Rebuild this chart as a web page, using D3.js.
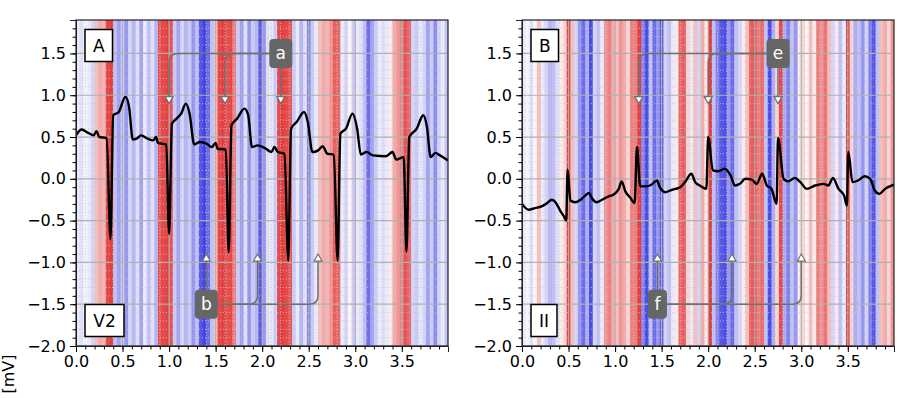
<!DOCTYPE html>
<html>
<head>
<meta charset="utf-8">
<script src="https://cdn.jsdelivr.net/npm/d3@7"></script>
<style>
  body { margin: 0; background: #fff; }
  text { font-family: "DejaVu Sans", sans-serif; }
</style>
</head>
<body>
<div id="plot"></div>
<script>
var W = 922, H = 398

// relevance per 0.04 s bin (-1 blue ... +1 red)
var binWidth = 0.04
var relA = [
  -0.1, -0.15, -0.05, -0.1, -0.2, 0.3, 0.4, 0.35, 0.85, 0.9,
  -0.3, -0.45, -0.25, -0.5, -0.2, -0.35, -0.15, -0.45, -0.1, -0.3,
  -0.15, -0.35, 0.8, 0.85, 0.9, 0.8, -0.25, -0.45, -0.2, -0.35,
  -0.25, -0.5, -0.3, -0.8, -0.9, -0.7, -0.3, 0.3, 0.85, 0.9,
  0.8, 0.85, 0.6, -0.25, -0.45, -0.15, -0.5, -0.25, -0.35, -0.8,
  -0.5, -0.15, -0.1, -0.25, 0.85, 0.9, 0.85, 0.8, -0.25, -0.1,
  -0.35, -0.15, -0.6, -0.25, -0.1, 0.3, 0.4, 0.35, 0.5, 0.75,
  0.7, -0.1, -0.2, 0.05, -0.25, -0.1, -0.15, -0.3, -0.7, -0.45,
  -0.25, -0.1, -0.15, -0.1, 0.1, 0.4, 0.5, 0.6, 0.8, 0.7,
  -0.2, -0.25, -0.1, -0.2, -0.45, -0.25, -0.55, -0.2, -0.1, -0.3
]
var relB = [
  -0.1, -0.05, -0.15, 0.05, 0.3, -0.1, -0.2, -0.35, -0.3, -0.15,
  0.1, 0.2, 0.9, 0.3, -0.2, -0.5, -0.7, -0.4, -0.85, -0.2,
  -0.3, -0.1, 0.5, 0.6, 0.4, 0.3, 0.5, 0.4, 0.2, 0.6,
  0.6, 0.9, -0.6, -0.85, -0.3, -0.7, -0.5, -0.8, -0.2, -0.3,
  -0.1, 0.1, 0.7, 0.75, 0.2, -0.1, 0.3, -0.2, 0.4, 0.1,
  0.9, -0.3, -0.6, -0.8, -0.85, -0.5, -0.7, -0.3, -0.2, 0.1,
  0.3, 0.75, 0.8, 0.6, 0.7, -0.3, -0.85, -0.4, 0.2, 0.85,
  -0.4, -0.6, -0.3, -0.5, 0.1, 0.2, 0.05, 0.3, 0.1, 0.6,
  0.5, 0.65, 0.3, -0.2, 0.1, -0.3, -0.1, 0.9, 0.2, -0.4,
  -0.3, -0.5, -0.2, -0.6, -0.8, -0.3, 0.3, 0.4, 0.2, 0.5
]

// ECG traces [s], [mV]
var tA = [0, 0.06, 0.13, 0.19, 0.22, 0.25, 0.33, 0.37, 0.40, 0.46,
  0.53, 0.57, 0.61, 0.65, 0.70, 0.77, 0.83, 0.86, 0.88, 0.97,
  1.00, 1.03, 1.08, 1.13, 1.18, 1.22, 1.27, 1.33, 1.40, 1.46,
  1.50, 1.52, 1.61, 1.64, 1.67, 1.73, 1.81, 1.85, 1.89, 1.95,
  2.04, 2.10, 2.13, 2.17, 2.24, 2.28, 2.31, 2.37, 2.45, 2.49,
  2.54, 2.60, 2.65, 2.70, 2.77, 2.81, 2.84, 2.90, 2.97, 3.02,
  3.06, 3.12, 3.19, 3.33, 3.40, 3.44, 3.52, 3.55, 3.58, 3.66,
  3.73, 3.77, 3.81, 3.86, 3.91, 3.996]
var vA = [0.52, 0.59, 0.55, 0.52, 0.57, 0.50, 0.49, -0.72, 0.76, 0.80,
  0.98, 0.86, 0.47, 0.48, 0.52, 0.48, 0.46, 0.50, 0.43, 0.41,
  -0.66, 0.66, 0.72, 0.78, 0.90, 0.78, 0.41, 0.44, 0.42, 0.38,
  0.43, 0.36, 0.35, -0.88, 0.64, 0.72, 0.84, 0.76, 0.38, 0.40,
  0.36, 0.32, 0.38, 0.32, 0.30, -0.98, 0.60, 0.68, 0.80, 0.68,
  0.32, 0.34, 0.39, 0.30, 0.29, -0.98, 0.54, 0.60, 0.78, 0.60,
  0.29, 0.32, 0.28, 0.27, 0.32, 0.23, 0.26, -0.87, 0.50, 0.60,
  0.76, 0.62, 0.26, 0.31, 0.28, 0.22]

var tB = [0, 0.07, 0.14, 0.21, 0.27, 0.32, 0.36, 0.41, 0.45, 0.475,
  0.49, 0.52, 0.57, 0.63, 0.68, 0.72, 0.75, 0.80, 0.86, 0.93,
  0.98, 1.04, 1.07, 1.11, 1.16, 1.21, 1.235, 1.27, 1.34, 1.39,
  1.45, 1.48, 1.54, 1.59, 1.65, 1.70, 1.75, 1.82, 1.86, 1.91,
  1.98, 2.00, 2.05, 2.11, 2.18, 2.24, 2.29, 2.34, 2.40, 2.47,
  2.52, 2.58, 2.63, 2.68, 2.735, 2.75, 2.81, 2.86, 2.93, 2.99,
  3.06, 3.15, 3.24, 3.29, 3.34, 3.40, 3.46, 3.49, 3.505, 3.55,
  3.61, 3.68, 3.74, 3.79, 3.84, 3.90, 3.996]
var vB = [-0.30, -0.37, -0.35, -0.33, -0.29, -0.25, -0.28, -0.38, -0.45, -0.50,
  0.11, -0.26, -0.28, -0.25, -0.20, -0.17, -0.23, -0.28, -0.25, -0.21,
  -0.19, -0.12, -0.03, -0.15, -0.22, -0.29, 0.38, -0.09, -0.09, -0.07,
  -0.02, -0.10, -0.16, -0.14, -0.12, -0.10, -0.04, 0.06, -0.04, -0.08,
  -0.12, 0.50, 0.10, 0.09, 0.12, 0.04, -0.08, -0.06, 0.00, -0.01,
  -0.06, 0.06, -0.08, -0.12, -0.30, 0.49, 0.00, -0.03, 0.01, -0.04,
  -0.12, -0.08, -0.06, -0.08, 0.01, -0.12, -0.20, -0.32, 0.32, -0.04,
  -0.02, 0.03, 0.00, -0.14, -0.18, -0.12, -0.07]

var xTicks = [0, 0.5, 1.0, 1.5, 2.0, 2.5, 3.0, 3.5]
var yTicks = [-2.0, -1.5, -1.0, -0.5, 0.0, 0.5, 1.0, 1.5]

var panels = [
  { id: "A", lead: "V2", left: 76, rel: relA, t: tA, v: vA,
    up: { label: "a", at: [2.2, 1.5], targets: [1.0, 1.6, 2.2], tip: 0.9 },
    low: { label: "b", at: [1.4, -1.5], targets: [1.4, 1.95, 2.6], tip: -0.9 } },
  { id: "B", lead: "II", left: 522, rel: relB, t: tB, v: vB,
    up: { label: "e", at: [2.75, 1.5], targets: [1.255, 2.0, 2.75], tip: 0.9 },
    low: { label: "f", at: [1.455, -1.5], targets: [1.455, 2.255, 3.0], tip: -0.9 } }
]

var pw = 372, plotTop = 20, plotBottom = 346

var svg = d3.select("#plot").append("svg")
  .attr("width", W).attr("height", H)

var blueRed = function (r) {
  return r >= 0 ? d3.interpolateRgb("#ffffff", "#e02a2a")(Math.min(r, 1))
                : d3.interpolateRgb("#ffffff", "#2f2fe0")(Math.min(-r, 1))
}

var notMajor = v => Math.abs(v / 0.5 - Math.round(v / 0.5)) > 1e-6

panels.forEach(function (p, pi) {
  var x = d3.scaleLinear().domain([0, 3.996]).range([p.left, p.left + pw])
  var y = d3.scaleLinear().domain([-2, 1.9]).range([plotBottom, plotTop])

  var g = svg.append("g")
  var clipId = "clip" + pi
  g.append("clipPath").attr("id", clipId)
    .append("rect").attr("x", p.left).attr("y", plotTop)
    .attr("width", pw).attr("height", plotBottom - plotTop)

  var inner = g.append("g").attr("clip-path", "url(#" + clipId + ")")

  // relevance stripes
  inner.selectAll("rect.bin")
    .data(p.rel)
    .enter().append("rect")
      .attr("class", "bin")
      .attr("x", (d, i) => x(i * binWidth))
      .attr("y", plotTop)
      .attr("width", (d, i) => x((i + 1) * binWidth) - x(i * binWidth) + 0.5)
      .attr("height", plotBottom - plotTop)
      .attr("fill", d => blueRed(d))

  // minor grid (dotted)
  var minorX = d3.range(0, 40).map(i => i / 10).filter(notMajor)
  var minorY = d3.range(-20, 19).map(i => i / 10).filter(notMajor)
  inner.selectAll("line.mx").data(minorX).enter().append("line")
    .attr("x1", d => x(d)).attr("x2", d => x(d))
    .attr("y1", plotTop).attr("y2", plotBottom)
    .attr("stroke", "#c8c8c8").attr("stroke-width", 0.8)
    .attr("stroke-dasharray", "1,2")
  inner.selectAll("line.my").data(minorY).enter().append("line")
    .attr("x1", p.left).attr("x2", p.left + pw)
    .attr("y1", d => y(d)).attr("y2", d => y(d))
    .attr("stroke", "#c8c8c8").attr("stroke-width", 0.8)
    .attr("stroke-dasharray", "1,2")

  // major grid
  inner.selectAll("line.gx").data(xTicks).enter().append("line")
    .attr("x1", d => x(d)).attr("x2", d => x(d))
    .attr("y1", plotTop).attr("y2", plotBottom)
    .attr("stroke", "#b0b0b0").attr("stroke-width", 1.2)
  inner.selectAll("line.gy").data(yTicks).enter().append("line")
    .attr("x1", p.left).attr("x2", p.left + pw)
    .attr("y1", d => y(d)).attr("y2", d => y(d))
    .attr("stroke", "#b0b0b0").attr("stroke-width", 1.2)

  // ECG trace
  var line = d3.line()
    .x((d, i) => x(p.t[i]))
    .y(d => y(d))
    .curve(d3.curveMonotoneX)
  inner.append("path")
    .datum(p.v)
    .attr("d", line)
    .attr("fill", "none")
    .attr("stroke", "#000")
    .attr("stroke-width", 2.4)
    .attr("stroke-linejoin", "round")

  // annotations
  var drawAnn = function (ann, down) {
    var bx = x(ann.at[0]), by = y(ann.at[1])
    var r = 9
    ann.targets.forEach(function (tt) {
      var tx = x(tt), ty = y(ann.tip)
      var path
      var ay = down ? ty - 7 : ty + 7
      if (Math.abs(tx - bx) < 1) {
        path = "M" + bx + "," + by + "L" + tx + "," + ay
      } else {
        var dir = tx < bx ? 1 : -1
        var dy = down ? r : -r
        path = "M" + bx + "," + by + "L" + (tx + dir * r) + "," + by +
          "Q" + tx + "," + by + " " + tx + "," + (by + dy) + "L" + tx + "," + ay
      }
      inner.append("path").attr("d", path)
        .attr("fill", "none").attr("stroke", "#707070").attr("stroke-width", 1.5)
      var h = down ? -7 : 7
      inner.append("path")
        .attr("d", "M" + tx + "," + ty + "L" + (tx - 4) + "," + (ty + h) + "L" + (tx + 4) + "," + (ty + h) + "Z")
        .attr("fill", "#fff").attr("stroke", "#707070").attr("stroke-width", 1.2)
    })
    var bw = ann.label === "f" ? 19 : 23
    inner.append("rect")
      .attr("x", bx - bw / 2).attr("y", by - 14.5)
      .attr("width", bw).attr("height", 29)
      .attr("rx", 4).attr("fill", "#666")
    inner.append("text")
      .attr("x", bx).attr("y", by + 6)
      .attr("text-anchor", "middle")
      .attr("fill", "#fff").attr("font-size", 17)
      .text(ann.label)
  }
  drawAnn(p.up, true)
  drawAnn(p.low, false)

  // panel labels
  var labelBox = function (txt, bx, byTop, bw) {
    g.append("rect").attr("x", bx).attr("y", byTop)
      .attr("width", bw).attr("height", 32)
      .attr("fill", "#fff").attr("stroke", "#000").attr("stroke-width", 1.5)
    g.append("text").attr("x", bx + bw / 2).attr("y", byTop + 22)
      .attr("text-anchor", "middle").attr("font-size", 17).attr("fill", "#000")
      .text(txt)
  }
  labelBox(p.id, p.left + 9, 29.5, 27.5)
  labelBox(p.lead, p.left + 9, 304.5, p.lead === "V2" ? 39 : 26)

  // frame
  g.append("rect").attr("x", p.left).attr("y", plotTop)
    .attr("width", pw).attr("height", plotBottom - plotTop)
    .attr("fill", "none").attr("stroke", "#222").attr("stroke-width", 1.2)

  // axes
  g.append("g").attr("transform", "translate(0," + plotBottom + ")")
    .call(d3.axisBottom(x).tickValues(xTicks).tickFormat(d3.format(".1f")).tickSize(6).tickPadding(4))
  g.append("g").attr("transform", "translate(0," + plotBottom + ")")
    .call(d3.axisBottom(x).tickValues(d3.range(0, 40).map(i => i / 10)).tickFormat("").tickSize(3.5))
    .select(".domain").remove()
  g.append("g").attr("transform", "translate(" + p.left + ",0)")
    .call(d3.axisLeft(y).tickValues(yTicks).tickFormat(d => d3.format(".1f")(d).replace("-", "\u2212")).tickSize(6).tickPadding(4))
  g.append("g").attr("transform", "translate(" + p.left + ",0)")
    .call(d3.axisLeft(y).tickValues(d3.range(-20, 19).map(i => i / 10)).tickFormat("").tickSize(3.5))
    .select(".domain").remove()
  g.selectAll(".tick text").attr("font-size", 16).attr("font-family", "DejaVu Sans").attr("fill", "#000")
  g.selectAll(".tick line").attr("stroke", "#000")
  g.selectAll(".domain").attr("stroke", "#222")
})

svg.append("text")
  .attr("transform", "translate(14,374) rotate(-90)")
  .attr("text-anchor", "middle")
  .attr("font-size", 16)
  .text("[mV]")
</script>
</body>
</html>
